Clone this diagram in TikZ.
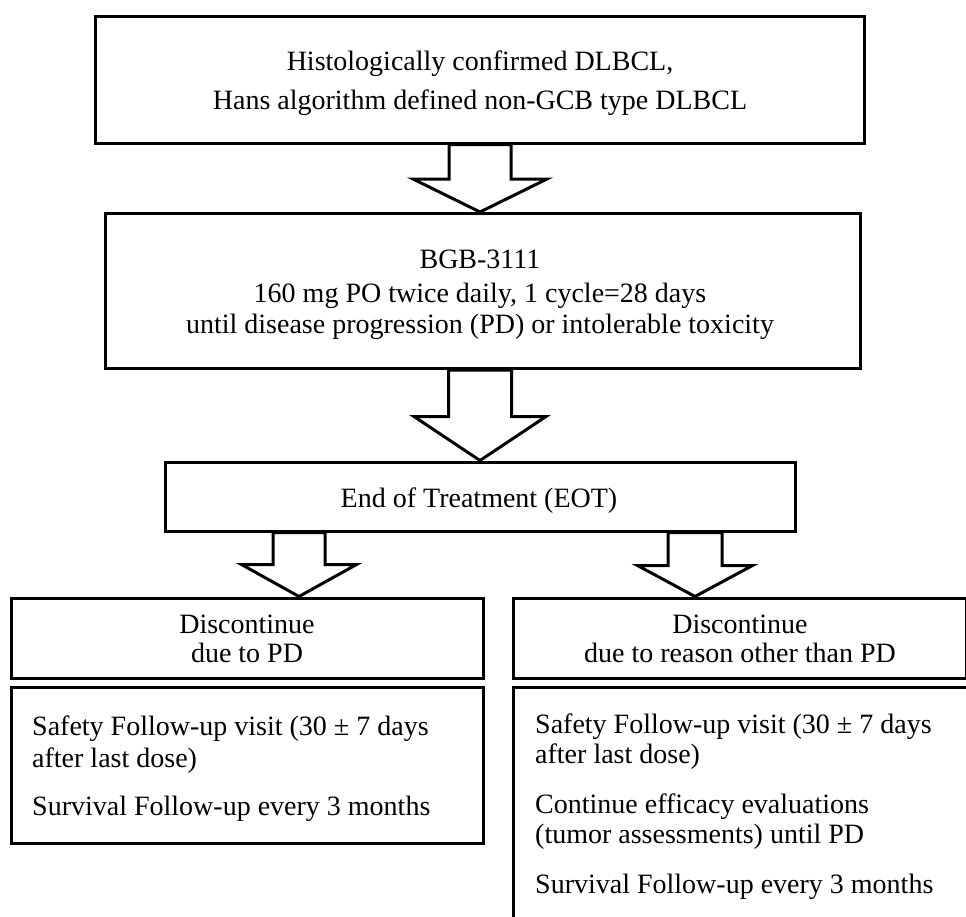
\documentclass[tikz,border=0pt]{standalone}
\usepackage{fontspec}
\setmainfont{Liberation Serif}
\usetikzlibrary{calc}
\tikzset{
  box/.style={draw=black, line width=3pt, rectangle, inner sep=0pt, fill=white},
  barrow/.style={draw=black, line width=3pt, fill=white, line join=miter},
  txt/.style={anchor=base, inner sep=0pt, font=\fontsize{28}{31}\selectfont},
  ltxt/.style={txt, anchor=base west}
}
\newcommand\blockarrow[5]{%
  \draw[barrow] ($(#1)+(-#3/2,0)$) -- ($(#2)+(-#3/2,-#5)$) -- ($(#2)+(-#4/2,-#5)$) -- (#2)
     -- ($(#2)+(#4/2,-#5)$) -- ($(#2)+(#3/2,-#5)$) -- ($(#1)+(#3/2,0)$) -- cycle;}
\begin{document}
\begin{tikzpicture}[x=1pt,y=-1pt]
\useasboundingbox (0,0) rectangle (966,916);
\clip (0,0) rectangle (966,916);
\fill[white] (0,0) rectangle (966,916);

% boxes
\node[box, minimum width=769pt, minimum height=127pt] (top) at (479.5,79.5) {};
\node[box, minimum width=754.5pt, minimum height=155pt] (drug) at (482.75,291) {};
\node[box, minimum width=630pt, minimum height=69pt] (eot) at (480,496.5) {};
\node[box, minimum width=472pt, minimum height=80pt] (ld) at (247,638) {};
\node[box, minimum width=472pt, minimum height=156pt] (lf) at (247,765) {};
\node[box, minimum width=452.5pt, minimum height=80pt] (rd) at (739.75,638) {};
\node[box, minimum width=466.5pt, minimum height=243pt] (rf) at (746.75,808.5) {};

% arrow positions
\coordinate (a1) at (480,0);
\coordinate (a3) at (299,0);
\coordinate (a4) at (695,0);
\coordinate (a1s) at (top.south -| a1);
\coordinate (a1e) at (drug.north -| a1);
\coordinate (a2s) at (drug.south -| a1);
\coordinate (a2e) at (eot.north -| a1);
\coordinate (a3s) at (eot.south -| a3);
\coordinate (a3e) at (ld.north -| a3);
\coordinate (a4s) at (eot.south -| a4);
\coordinate (a4e) at (rd.north -| a4);

\blockarrow{a1s}{a1e}{62}{134}{33}
\blockarrow{a2s}{a2e}{63}{132}{44}
\blockarrow{a3s}{a3e}{52}{115}{32}
\blockarrow{a4s}{a4e}{54}{115}{31}

% texts
\node[txt] (t1) at (480,70) {Histologically confirmed DLBCL,};
\node[txt] (t2) at (480,109) {Hans algorithm defined non-GCB type DLBCL};
\node[txt] (d1) at (480,268) {BGB-3111};
\node[txt] (d2) at (480,302) {160 mg PO twice daily, 1 cycle=28 days};
\node[txt] (d3) at (480,333) {until disease progression (PD) or intolerable toxicity};
\node[txt] (e1) at (479,507) {End of Treatment (EOT)};
\node[txt] (ld1) at (247,633) {Discontinue};
\node[txt] (ld2) at (247,662) {due to PD};
\node[txt] (rd1) at (740,633) {Discontinue};
\node[txt] (rd2) at (740,662) {due to reason other than PD};

\node[ltxt] (lf1) at (32,735) {Safety Follow-up visit (30 ± 7 days};
\node[ltxt] (lf2) at (32,767) {after last dose)};
\node[ltxt] (lf3) at (32,815) {Survival Follow-up every 3 months};

\node[ltxt] (rf1) at (535,733) {Safety Follow-up visit (30 ± 7 days};
\node[ltxt] (rf2) at (535,763) {after last dose)};
\node[ltxt] (rf3) at (535,813) {Continue efficacy evaluations};
\node[ltxt] (rf4) at (535,843) {(tumor assessments) until PD};
\node[ltxt] (rf5) at (535,893) {Survival Follow-up every 3 months};
\end{tikzpicture}
\end{document}
